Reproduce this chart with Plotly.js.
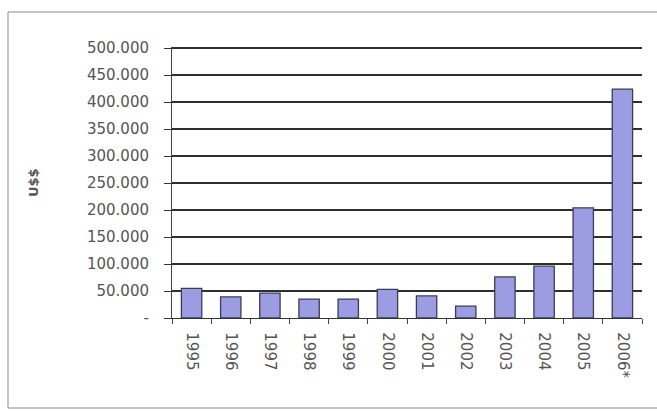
<!DOCTYPE html>
<html>
<head>
<meta charset="utf-8">
<script src="https://cdn.plot.ly/plotly-3.0.1.min.js"></script>
<style>
  html, body { margin: 0; padding: 0; background: #ffffff; overflow: hidden; }
  #chart { width: 657px; height: 411px; }
</style>
</head>
<body>
<div id="chart"></div>
<script>
// Annual values in U$$
const years = ["1995", "1996", "1997", "1998", "1999", "2000", "2001", "2002", "2003", "2004", "2005", "2006*"];
const values = [55000, 39000, 46000, 35000, 35000, 53000, 41000, 22000, 76000, 96000, 204000, 424000];

// Value axis ticks (accounting style: zero shown as a dash)
const yTickVals = [0, 50000, 100000, 150000, 200000, 250000, 300000, 350000, 400000, 450000, 500000];
const yTickText = ["-", "50.000", "100.000", "150.000", "200.000", "250.000", "300.000", "350.000", "400.000", "450.000", "500.000"];
const yAxisLabel = "U$$";

const W = 657, H = 411;
const plotL = 172, plotR = 642, plotT = 47, plotB = 318;
const pw = plotR - plotL, ph = plotB - plotT;
const px = v => (v - plotL) / pw;
const py = v => (plotB - v) / ph;

const tickFont = { family: "DejaVu Sans, Arial, sans-serif", size: 15, color: "#555555" };

const trace = {
  type: "bar",
  x: years,
  y: values,
  marker: {
    color: "#9c9ce2",
    line: { color: "#3c3c55", width: 1.3 }
  },
  hoverinfo: "x+y"
};

// thin outer frame: left, top and bottom edges of the chart box
const frameColor = "#8a8a8a";
const frameLine = (x0, y0, x1, y1) => ({
  type: "line", xref: "paper", yref: "paper", layer: "below",
  x0: px(x0), y0: py(y0), x1: px(x1), y1: py(y1),
  line: { color: frameColor, width: 1 }
});

const layout = {
  width: W,
  height: H,
  margin: { l: plotL, r: W - plotR, t: plotT, b: H - plotB, pad: 0 },
  paper_bgcolor: "#ffffff",
  plot_bgcolor: "#ffffff",
  showlegend: false,
  bargap: 0.48,
  xaxis: {
    type: "category",
    tickangle: 90,
    tickfont: tickFont,
    ticks: "outside",
    tickson: "boundaries",
    ticklen: 5,
    tickcolor: "#444444",
    ticklabelstandoff: 10,
    showline: true,
    linecolor: "#333333",
    linewidth: 1.3,
    showgrid: false,
    zeroline: false,
    fixedrange: true
  },
  yaxis: {
    range: [0, 502000],
    tickvals: yTickVals,
    ticktext: yTickText,
    tickfont: tickFont,
    ticks: "outside",
    ticklen: 7,
    tickcolor: "#333333",
    ticklabelstandoff: 12,
    showline: true,
    linecolor: "#444444",
    linewidth: 1,
    showgrid: true,
    gridcolor: "#2e2e2e",
    gridwidth: 1.4,
    zeroline: false,
    fixedrange: true
  },
  shapes: [
    frameLine(8, 12, 8, 408),
    frameLine(8, 12, 657, 12),
    frameLine(8, 408, 657, 408)
  ],
  annotations: [
    {
      text: "<b>" + yAxisLabel + "</b>",
      xref: "paper", yref: "paper",
      x: px(33), y: py(183),
      xanchor: "center", yanchor: "middle",
      textangle: -90,
      showarrow: false,
      font: { family: "DejaVu Sans, Arial, sans-serif", size: 13, color: "#555555" }
    }
  ]
};

Plotly.newPlot("chart", [trace], layout, { displayModeBar: false, staticPlot: true });
</script>
</body>
</html>
